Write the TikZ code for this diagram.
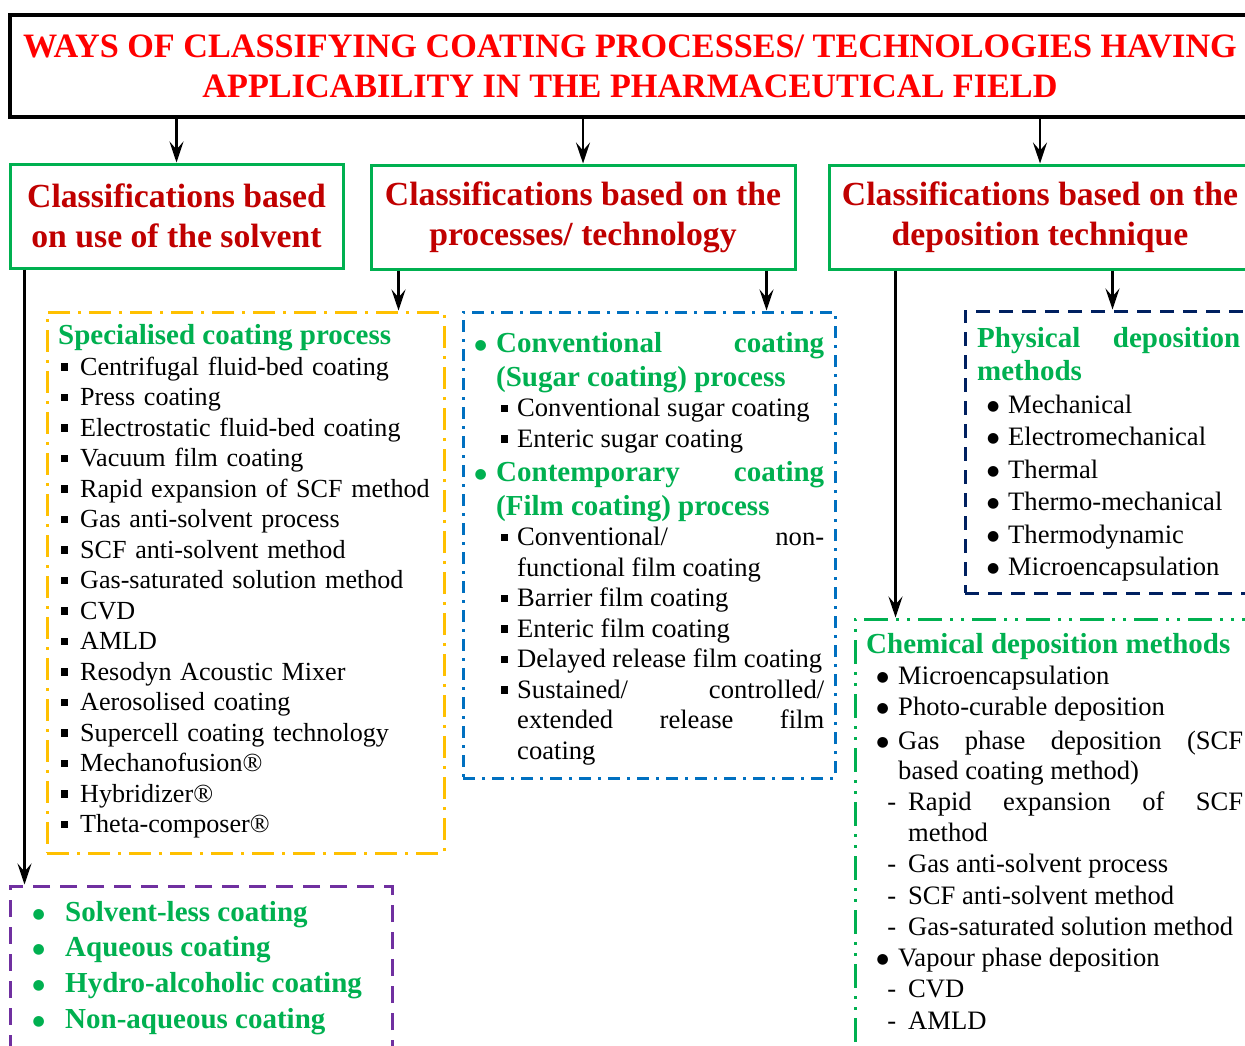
\documentclass[tikz,border=0pt]{standalone}
\usepackage{fontspec}
\setmainfont{Liberation Serif}
\newfontfamily\dotfont{DejaVu Sans}
\usetikzlibrary{arrows.meta}

\definecolor{hdred}{RGB}{255,0,0}
\definecolor{clred}{RGB}{192,0,0}
\definecolor{clgreen}{RGB}{0,176,80}
\definecolor{clyellow}{RGB}{255,192,0}
\definecolor{clblue}{RGB}{0,112,192}
\definecolor{clnavy}{RGB}{0,32,96}
\definecolor{clpurple}{RGB}{112,48,160}

\hbadness=10000
\hfuzz=2pt

% list lines
\newlength\subind
\newcommand{\headfont}{\fontsize{29}{34}\selectfont\bfseries\color{clgreen}}
\newcommand{\sqmark}[1]{\rule[4.5pt]{7.5pt}{7.5pt}\hskip #1}
\newcommand{\bigdot}[1]{\raisebox{3pt}{\fontsize{14}{0}\dotfont ●}\hskip #1}
\newcommand{\mk}{\bigdot{8.8pt}}
\newcommand{\submk}{\sqmark{9pt}}
\newcommand{\entry}[1]{{\noindent\llap{\mk}#1\par}}
\newcommand{\gentry}[1]{{\noindent\headfont\llap{\mk}#1\par}}
\newcommand{\subentry}[1]{{\leftskip=\subind\noindent\llap{\submk}#1\par}}

\begin{document}
\begin{tikzpicture}[x=1pt,y=-1pt]
\tikzset{
  topbox/.style={draw=black, line width=3.5pt, text=hdred, align=center,
    font=\fontsize{34.2}{40}\selectfont\bfseries},
  classbox/.style={draw=clgreen, line width=3pt, text=clred, align=center,
    font=\fontsize{33.7}{40}\selectfont\bfseries},
  arr/.style={line width=2.5pt, -{Stealth[length=21pt,width=14pt,inset=8pt]}},
  specbox/.style={draw=clyellow, line width=3pt, dash pattern=on 22pt off 8pt on 3pt off 8pt},
  convbox/.style={draw=clblue, line width=3pt, dash pattern=on 12pt off 7pt on 3pt off 7pt},
  physbox/.style={draw=clnavy, line width=3pt, dash pattern=on 14pt off 9pt},
  chembox/.style={draw=clgreen, line width=3pt, dash pattern=on 24pt off 8pt on 3pt off 8pt on 3pt off 8pt},
  solvbox/.style={draw=clpurple, line width=3pt, dash pattern=on 17pt off 10pt},
  greenhead/.style={anchor=base west, inner sep=0pt, text=clgreen,
    font=\fontsize{29}{33}\selectfont\bfseries},
  listtext/.style={anchor=base west, inner sep=0pt, align=justify,
    font=\fontsize{26.6}{30.5}\selectfont},
}
\useasboundingbox (0,0) rectangle (1245,1045);
\clip (0,0) rectangle (1245,1045);

\node[topbox, minimum width=1240pt, minimum height=102pt] (T) at (630,66)
  {WAYS OF CLASSIFYING COATING PROCESSES/ TECHNOLOGIES HAVING\\ APPLICABILITY IN THE PHARMACEUTICAL FIELD};

\node[classbox, minimum width=333pt, minimum height=104pt] (A) at (176.5,216)
  {Classifications based\\ on use of the solvent};
\node[classbox, minimum width=424pt, minimum height=104pt] (B) at (583,217)
  {Classifications based on the\\ processes/ technology};
\node[classbox, minimum width=422pt, minimum height=104pt] (C) at (1040,217)
  {Classifications based on the\\ deposition technique};

% dashed boxes
\node[specbox, minimum width=397pt, minimum height=541pt] (Y) at (245.5,582.5) {};
\node[convbox, minimum width=372pt, minimum height=466pt] (Bl) at (649,545) {};
\node[physbox, minimum width=297pt, minimum height=282pt] (N) at (1113.5,452) {};
\node[chembox, minimum width=407pt, minimum height=461pt] (G) at (1058.5,849.5) {};
\node[solvbox, minimum width=382pt, minimum height=194pt] (P) at (201,983) {};

\draw[arr] (T.south -| A.north) -- (A.north);
\draw[arr] (T.south -| B.north) -- (B.north);
\draw[arr] (T.south -| C.north) -- (C.north);

\coordinate (a1) at ([xshift=16pt]A.south west);
\coordinate (b1) at ([xshift=29pt]B.south west);
\coordinate (b2) at ([xshift=-30pt]B.south east);
\coordinate (c1) at ([xshift=68pt]C.south west);
\coordinate (c2) at ([xshift=285pt]C.south west);
\draw[arr] (a1) -- (a1 |- P.north);
\draw[arr] (b1) -- (b1 |- Y.north);
\draw[arr] (b2) -- (b2 |- Bl.north);
\draw[arr] (c1) -- (c1 |- G.north);
\draw[arr] (c2) -- (c2 |- N.north);

% specialised processes
\node[greenhead] (Yt) at (58,344) {Specialised coating process};
\node[listtext, text width=360pt, align=left, font=\fontsize{26.1}{30.5}\selectfont] (Yl) at (80,375) {%
  \renewcommand\mk{\sqmark{12pt}}%
  \entry{Centrifugal fluid-bed coating}
  \entry{Press coating}
  \entry{Electrostatic fluid-bed coating}
  \entry{Vacuum film coating}
  \entry{Rapid expansion of SCF method}
  \entry{Gas anti-solvent process}
  \entry{SCF anti-solvent method}
  \entry{Gas-saturated solution method}
  \entry{CVD}
  \entry{AMLD}
  \entry{Resodyn Acoustic Mixer}
  \entry{Aerosolised coating}
  \entry{Supercell coating technology}
  \entry{Mechanofusion®}
  \entry{Hybridizer®}
  \entry{Theta-composer®}};

% conventional / contemporary
\node[listtext, text width=328pt] (Bll) at (496,352) {%
  \renewcommand\mk{\bigdot{9.3pt}}\setlength\subind{21pt}%
  \gentry{Conventional coating\linebreak (Sugar coating) process}
  \subentry{Conventional sugar coating}
  \subentry{Enteric sugar coating}
  \gentry{Contemporary coating\linebreak (Film coating) process}
  \subentry{Conventional/ non-\linebreak functional film coating}
  \subentry{Barrier film coating}
  \subentry{Enteric film coating}
  \subentry{Delayed release film coating}
  \subentry{Sustained/ controlled/\linebreak extended release film\linebreak coating}};

% physical deposition
\node[greenhead, text width=263pt, align=justify] (Nt) at (977,347)
  {Physical deposition\linebreak methods};
\node[listtext, text width=230pt, font=\fontsize{26.6}{32.4}\selectfont] (Nl) at (1008,413.5) {%
  \entry{Mechanical}
  \entry{Electromechanical}
  \entry{Thermal}
  \entry{Thermo-mechanical}
  \entry{Thermodynamic}
  \entry{Microencapsulation}};

% chemical deposition
\node[greenhead] (Gt) at (866,653) {Chemical deposition methods};
\node[listtext, text width=345pt] (Gl) at (898,684) {%
  \setlength\parskip{0.8pt}\setlength\subind{10pt}%
  \renewcommand\mk{\bigdot{9.3pt}}%
  \renewcommand\submk{-\hskip 12pt}%
  \entry{Microencapsulation}
  \entry{Photo-curable deposition}
  \vspace{2.5pt}%
  \entry{Gas phase deposition (SCF\linebreak based coating method)}
  \subentry{Rapid expansion of SCF\linebreak method}
  \subentry{Gas anti-solvent process}
  \subentry{SCF anti-solvent method}
  \subentry{Gas-saturated solution method}
  \entry{Vapour phase deposition}
  \subentry{CVD}
  \subentry{AMLD}};

% solvent based
\node[listtext, text width=320pt, text=clgreen,
  font=\fontsize{29}{35.7}\selectfont\bfseries] (Pl) at (65,921) {%
  \renewcommand\mk{\bigdot{20.3pt}}%
  \entry{Solvent-less coating}
  \entry{Aqueous coating}
  \entry{Hydro-alcoholic coating}
  \entry{Non-aqueous coating}};
\end{tikzpicture}
\end{document}
